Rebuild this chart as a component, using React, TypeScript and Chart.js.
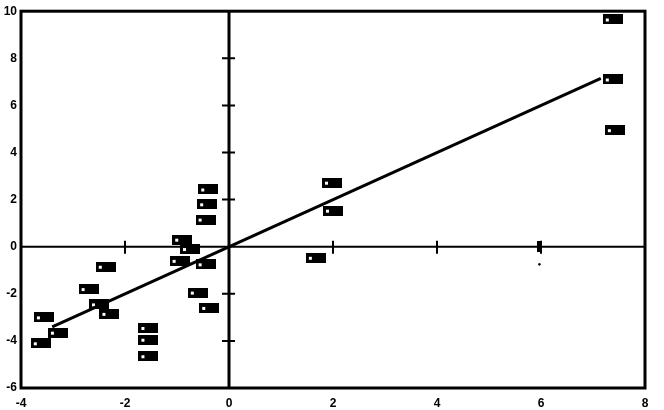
import { useEffect, useRef } from 'react';
import { Chart, registerables } from 'chart.js';

Chart.register(...registerables);

const xTicks = [-4, -2, 0, 2, 4, 6, 8];
const yTicks = [-6, -4, -2, 0, 2, 4, 6, 8, 10];
const zeroXTicks = [-2, 2, 4, 6];
const zeroYTicks = [-4, -2, 2, 4, 6, 8];

const pointX = [7.38, 7.38, 7.42, 1.98, 2.0, 1.67, -0.4, -0.42, -0.45, -0.9, -0.75, -0.95, -0.45, -0.6, -0.38, -2.37, -2.7, -2.5, -2.3, -3.56, -3.29, -3.62, -1.55, -1.55, -1.55];
const pointY = [9.65, 7.1, 4.95, 2.72, 1.53, -0.47, 2.43, 1.8, 1.15, 0.3, -0.1, -0.6, -0.75, -1.95, -2.6, -0.85, -1.8, -2.45, -2.85, -3.0, -3.65, -4.1, -3.45, -3.95, -4.65];

const smallX = [5.98];
const smallY = [0.0];
const dotX = [5.97];
const dotY = [-0.75];

const fitX = [-3.4, 7.15];
const fitY = [-3.4, 7.15];

function makeBlob(): HTMLCanvasElement {
  const c = document.createElement('canvas');
  c.width = 20;
  c.height = 10;
  const g = c.getContext('2d')!;
  g.fillStyle = '#000';
  g.fillRect(0, 0, 20, 10);
  g.fillStyle = '#fff';
  g.fillRect(3, 4, 3, 3);
  return c;
}

function makeSmall(): HTMLCanvasElement {
  const c = document.createElement('canvas');
  c.width = 5;
  c.height = 11;
  const g = c.getContext('2d')!;
  g.fillStyle = '#000';
  g.fillRect(0, 0, 5, 11);
  return c;
}

const framePlugin = {
  id: 'frame',
  beforeDatasetsDraw(chart: any) {
    const { ctx, chartArea, scales } = chart;
    const xs = scales.x;
    const ys = scales.y;
    const x0 = xs.getPixelForValue(0);
    const y0 = ys.getPixelForValue(0);
    ctx.save();
    ctx.strokeStyle = '#000';
    ctx.lineWidth = 3;
    ctx.strokeRect(chartArea.left, chartArea.top, chartArea.right - chartArea.left, chartArea.bottom - chartArea.top);
    ctx.beginPath();
    ctx.lineWidth = 3;
    ctx.moveTo(x0, chartArea.top);
    ctx.lineTo(x0, chartArea.bottom);
    ctx.stroke();
    ctx.beginPath();
    ctx.lineWidth = 2;
    ctx.moveTo(chartArea.left, y0);
    ctx.lineTo(chartArea.right, y0);
    ctx.stroke();
    ctx.lineWidth = 2;
    ctx.beginPath();
    zeroYTicks.forEach((v) => {
      const p = ys.getPixelForValue(v);
      ctx.moveTo(x0 - 7, p);
      ctx.lineTo(x0 + 6, p);
    });
    zeroXTicks.forEach((v) => {
      const p = xs.getPixelForValue(v);
      ctx.moveTo(p, y0 - 6);
      ctx.lineTo(p, y0 + 7);
    });
    ctx.stroke();
    ctx.restore();
  },
};

export default function App() {
  const ref = useRef<HTMLCanvasElement>(null);
  useEffect(() => {
    if (!ref.current) return;
    const blob = makeBlob();
    const small = makeSmall();
    const font = { family: '"Liberation Sans", Arial, sans-serif', size: 12, weight: 'bold' as const };
    const chart = new Chart(ref.current, {
      type: 'scatter',
      data: {
        datasets: [
          {
            type: 'line',
            data: fitX.map((x, i) => ({ x, y: fitY[i] })),
            borderColor: '#000',
            borderWidth: 3,
            pointRadius: 0,
            fill: false,
          } as any,
          {
            data: pointX.map((x, i) => ({ x, y: pointY[i] })),
            pointStyle: blob as any,
            pointRadius: 6,
          },
          {
            data: smallX.map((x, i) => ({ x, y: smallY[i] })),
            pointStyle: small as any,
            pointRadius: 4,
          },
          {
            data: dotX.map((x, i) => ({ x, y: dotY[i] })),
            pointStyle: 'rect',
            pointRadius: 1,
            backgroundColor: '#000',
            borderColor: '#000',
          },
        ],
      },
      options: {
        responsive: false,
        animation: false,
        layout: { padding: { top: 9, right: 19, left: 0, bottom: 0 } },
        plugins: { legend: { display: false }, tooltip: { enabled: false } },
        scales: {
          x: {
            type: 'linear',
            min: -4,
            max: 8,
            afterBuildTicks: (s: any) => {
              s.ticks = xTicks.map((v) => ({ value: v }));
            },
            afterFit: (s: any) => {
              s.height = 22;
            },
            grid: { display: false, drawTicks: false, tickLength: 0 },
            border: { display: false },
            ticks: { color: '#000', font, padding: 8, autoSkip: false, maxRotation: 0 },
          },
          y: {
            type: 'linear',
            min: -6,
            max: 10,
            afterBuildTicks: (s: any) => {
              s.ticks = yTicks.map((v) => ({ value: v }));
            },
            afterFit: (s: any) => {
              s.width = 21;
            },
            grid: { display: false, drawTicks: false, tickLength: 0 },
            border: { display: false },
            ticks: { color: '#000', font, padding: 4, autoSkip: false },
          },
        },
      },
      plugins: [framePlugin],
    });
    return () => chart.destroy();
  }, []);
  return (
    <div style={{ position: 'absolute', left: 0, top: 0, width: 664, height: 410, background: '#fff' }}>
      <canvas ref={ref} width={664} height={410} />
    </div>
  );
}
